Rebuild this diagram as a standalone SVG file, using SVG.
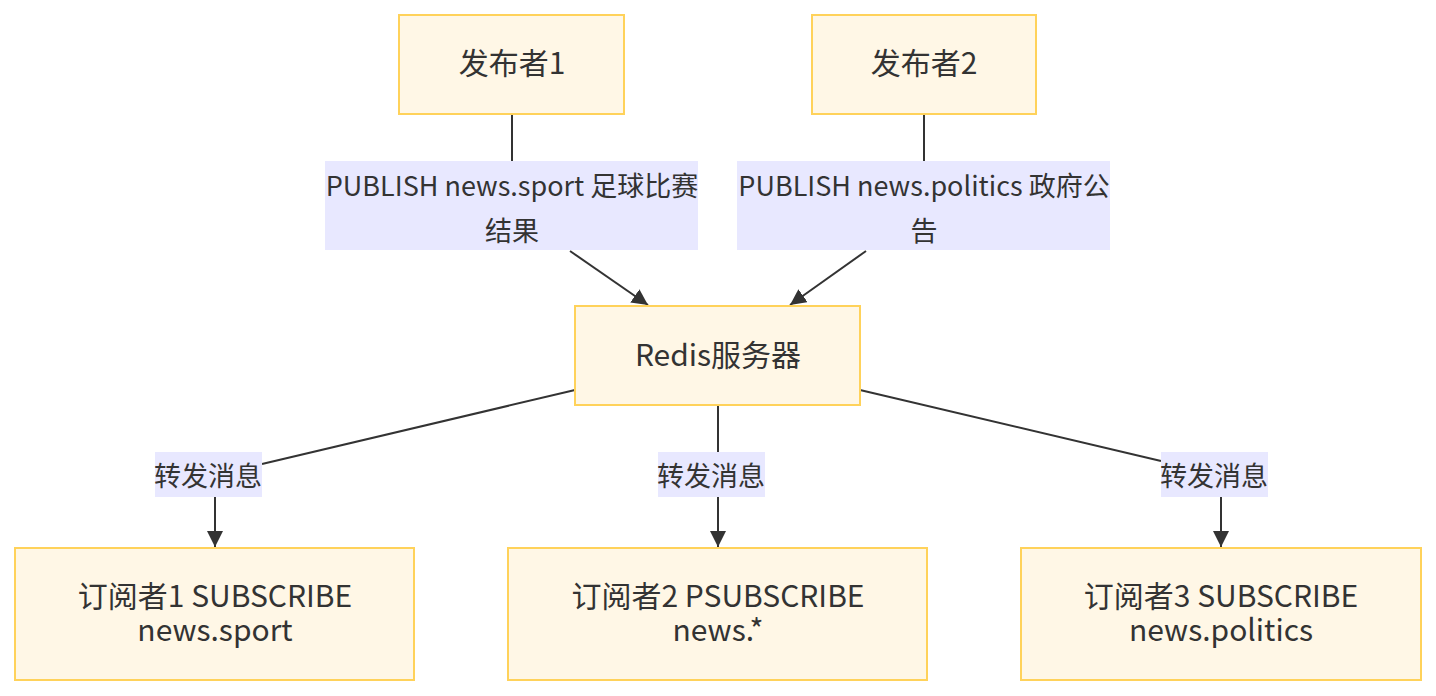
<svg xmlns="http://www.w3.org/2000/svg" width="1436" height="696" viewBox="0 0 1436 696">
<style>
.node rect{fill:#fff7e6;stroke:#ffd25a;stroke-width:2}
.lbl rect{fill:#e8e8ff;stroke:none}
text{font-family:"Noto Sans CJK SC","Noto Sans",sans-serif;font-size:27px;fill:#333;text-anchor:middle;dominant-baseline:central}
.node text{font-size:30px}
.edge{stroke:#333;stroke-width:2;fill:none}
</style>
<defs>
<marker id="arrow" viewBox="0 0 12 12" refX="12" refY="6" markerWidth="16" markerHeight="16" markerUnits="userSpaceOnUse" orient="auto"><path d="M0,0L12,6L0,12z" fill="#333"/></marker>
</defs>
<g id="connectors">
<path class="edge" d="M512,114V161"/>
<path class="edge" d="M570,251L648,305" marker-end="url(#arrow)"/>
<path class="edge" d="M924,114V161"/>
<path class="edge" d="M866,251L790,305" marker-end="url(#arrow)"/>
<path class="edge" d="M575,390L262,464"/>
<path class="edge" d="M215,497V547" marker-end="url(#arrow)"/>
<path class="edge" d="M718,405V452"/>
<path class="edge" d="M718,497V547" marker-end="url(#arrow)"/>
<path class="edge" d="M860,390L1161,461"/>
<path class="edge" d="M1221,497V547" marker-end="url(#arrow)"/>
</g>
<g id="edge-labels">
<g class="lbl"><rect x="325" y="161" width="373" height="89"/><text x="512" y="184">PUBLISH news.sport 足球比赛</text><text x="512" y="229">结果</text></g>
<g class="lbl"><rect x="737" y="161" width="373" height="89"/><text x="924" y="184">PUBLISH news.politics 政府公</text><text x="924" y="229">告</text></g>
<g class="lbl"><rect x="155" y="452" width="107" height="45"/><text x="208" y="474">转发消息</text></g>
<g class="lbl"><rect x="658" y="452" width="107" height="45"/><text x="711" y="474">转发消息</text></g>
<g class="lbl"><rect x="1161" y="452" width="107" height="45"/><text x="1214" y="474">转发消息</text></g>
</g>
<g id="pub1" class="node"><rect x="399" y="15" width="225" height="99"/><text x="512" y="61">发布者1</text></g>
<g id="pub2" class="node"><rect x="812" y="15" width="224" height="99"/><text x="924" y="61">发布者2</text></g>
<g id="redis" class="node"><rect x="575" y="306" width="285" height="99"/><text x="718" y="353">Redis服务器</text></g>
<g id="sub1" class="node"><rect x="15" y="548" width="399" height="132"/><text x="215" y="594">订阅者1 SUBSCRIBE</text><text x="215" y="628">news.sport</text></g>
<g id="sub2" class="node"><rect x="508" y="548" width="419" height="132"/><text x="718" y="594">订阅者2 PSUBSCRIBE</text><text x="718" y="628">news.*</text></g>
<g id="sub3" class="node"><rect x="1021" y="548" width="400" height="132"/><text x="1221" y="594">订阅者3 SUBSCRIBE</text><text x="1221" y="628">news.politics</text></g>
</svg>
